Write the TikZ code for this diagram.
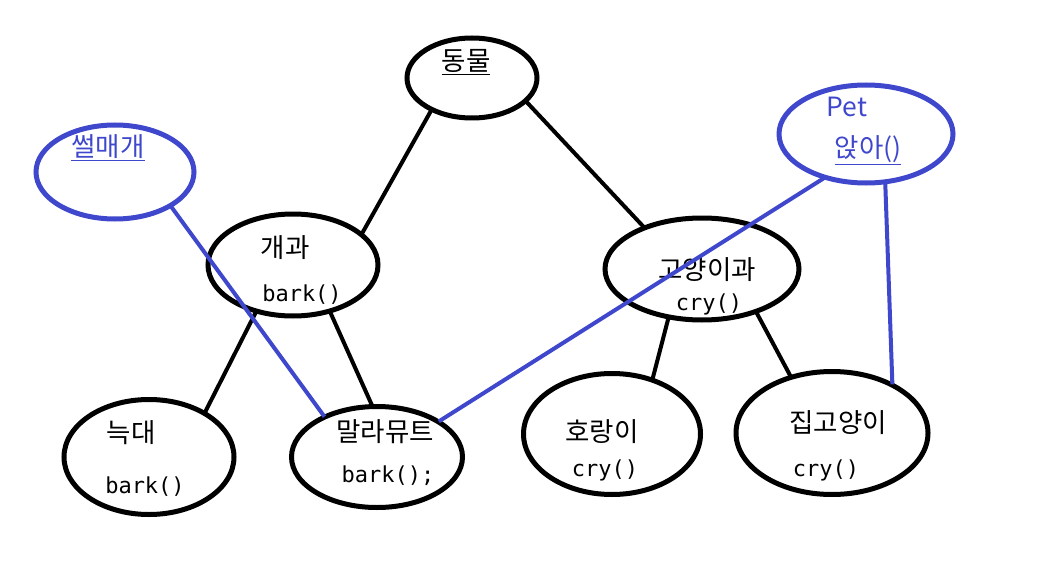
\documentclass[tikz,border=0pt]{standalone}
\usepackage{fontspec}
\setmainfont{Noto Sans CJK KR}
\newfontfamily\codefont{DejaVu Sans Mono}
\definecolor{pblue}{RGB}{63,72,204}
\tikzset{
  ell/.style={draw=black, line width=5pt, ellipse, inner sep=0pt},
  bell/.style={draw=pblue, line width=5pt, ellipse, inner sep=0pt},
  kor/.style={inner sep=0pt, font=\fontsize{26.5}{30}\selectfont},
  code/.style={inner sep=0pt, font=\codefont\fontsize{22}{26}\selectfont},
  conn/.style={draw=black, line width=4pt, shorten <=-2pt, shorten >=-2pt},
  bconn/.style={draw=pblue, line width=4pt, shorten <=-2pt, shorten >=-2pt}
}
\usetikzlibrary{shapes.geometric}
\begin{document}
\begin{tikzpicture}[x=1pt,y=-1pt]
\useasboundingbox (0,0) rectangle (1049,567);
% ellipses
\node[ell, minimum width=130pt, minimum height=80pt] (dongmul) at (472,78) {};
\node[bell, minimum width=158pt, minimum height=94pt] (sled) at (115,172) {};
\node[bell, minimum width=174pt, minimum height=98pt] (pet) at (866,134) {};
\node[ell, minimum width=170pt, minimum height=102pt] (dog) at (293,265) {};
\node[ell, minimum width=194pt, minimum height=102pt] (cat) at (702,269) {};
\node[ell, minimum width=170pt, minimum height=115pt] (wolf) at (149,457) {};
\node[ell, minimum width=171pt, minimum height=101pt] (mal) at (377,457) {};
\node[ell, minimum width=177pt, minimum height=121pt] (tiger) at (612,434) {};
\node[ell, minimum width=192pt, minimum height=123pt] (house) at (832,433) {};
% texts
\node[kor] (tdongmul) at (466,62) {\underline{동물}};
\node[kor, text=pblue] (tsled) at (108,148) {\underline{썰매개}};
\node[kor, text=pblue] (tpet) at (847,107) {Pet};
\node[kor, text=pblue] (tsit) at (868,150) {\underline{앉아()}};
\node[kor] (tdog) at (285,248) {개과};
\node[code] (tdogm) at (302,295) {bark()};
\node[kor] (tcat) at (707,270) {고양이과};
\node[code] (tcatm) at (709,304) {cry()};
\node[kor] (twolf) at (131,433) {늑대};
\node[code] (twolfm) at (145,487) {bark()};
\node[kor] (tmal) at (385,432) {말라뮤트};
\node[code] (tmalm) at (388,476) {bark();};
\node[kor] (ttiger) at (602,432) {호랑이};
\node[code] (ttigerm) at (605,470) {cry()};
\node[kor] (thouse) at (838,423) {집고양이};
\node[code] (thousem) at (826,470) {cry()};
% black connectors
\draw[conn] (dongmul.-141) -- (dog.25);
\draw[conn] (dongmul.-24) -- (cat.144);
\draw[conn] (dog.-128) -- (wolf.39);
\draw[conn] (dog.-52) -- (mal.96);
\draw[conn] (cat.-124) -- (tiger.54);
\draw[conn] (cat.-39) -- (house.126);
% blue connectors
\draw[bconn] (sled.-32) -- (mal.142);
\draw[bconn] (pet.-134) -- (mal.30);
\draw[bconn] (pet.-69) -- (house.40);
\end{tikzpicture}
\end{document}
